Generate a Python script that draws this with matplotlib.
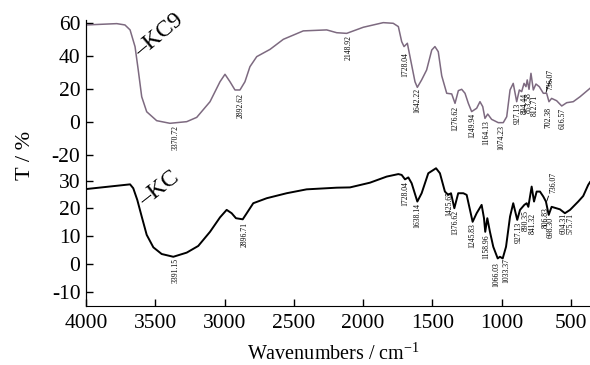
import matplotlib
matplotlib.use("Agg")
import matplotlib.pyplot as plt

plt.rcParams["font.family"] = ["Liberation Serif", "DejaVu Serif"]
plt.rcParams["mathtext.fontset"] = "custom"
plt.rcParams["mathtext.rm"] = "Liberation Serif"
plt.rcParams["axes.unicode_minus"] = False

# KC9 spectrum (upper trace)
wn_kc9 = [4000, 3778, 3719, 3682, 3646, 3623, 3598, 3562, 3490, 3394,
          3273, 3201, 3105, 3033, 2997, 2961, 2925, 2889, 2853, 2817,
          2768, 2672, 2576, 2432, 2263, 2191, 2119, 1999, 1855, 1783,
          1746, 1722, 1705, 1681, 1662, 1626, 1609, 1578, 1542, 1505,
          1482, 1458, 1433, 1397, 1361, 1337, 1313, 1289, 1265, 1241,
          1217, 1181, 1157, 1137, 1121, 1101, 1073, 1025, 989, 964,
          940, 917, 892, 873, 856, 839, 825, 816, 803, 789,
          772, 753, 729, 700, 676, 659, 640, 604, 567, 531,
          484, 435, 363]
t_kc9 = [58.8, 59.6, 58.8, 55.8, 45.6, 31.5, 15.3, 6.2, 0.8, -0.8,
         0.2, 2.8, 12.3, 24.4, 28.9, 24.4, 19.4, 19.4, 24.4, 33.5,
         39.6, 44.0, 50.1, 55.2, 55.8, 54.1, 53.7, 57.4, 60.2, 59.8,
         57.8, 48.7, 45.7, 47.7, 39.6, 24.4, 21.0, 25.5, 31.5, 43.6,
         45.7, 42.6, 28.0, 17.4, 17.0, 11.3, 19.0, 19.8, 17.4, 11.3,
         6.3, 8.3, 12.3, 9.3, 2.2, 4.8, 1.6, -0.4, -0.4, 3.2,
         19.4, 23.4, 12.3, 19.4, 18.4, 23.4, 21.4, 25.5, 19.8, 29.5,
         19.4, 23.0, 21.4, 17.4, 17.4, 12.3, 14.3, 12.9, 9.7, 11.7,
         12.3, 15.3, 20.4]

# KC spectrum (lower trace)
wn_kc = [4000, 3682, 3659, 3630, 3598, 3562, 3514, 3454, 3370, 3273,
         3190, 3105, 3033, 2985, 2949, 2918, 2869, 2840, 2793, 2696,
         2552, 2408, 2191, 2095, 1951, 1830, 1746, 1722, 1698, 1674,
         1650, 1609, 1578, 1530, 1474, 1446, 1410, 1386, 1366, 1342,
         1314, 1277, 1253, 1234, 1210, 1181, 1145, 1128, 1119, 1104,
         1085, 1061, 1029, 1013, 993, 969, 940, 917, 888, 868,
         849, 837, 820, 808, 784, 767, 748, 724, 700, 681,
         661, 640, 580, 544, 507, 448, 412, 376, 363]
t_kc = [27.0, 28.7, 27.3, 23.1, 17.1, 10.5, 6.0, 3.6, 2.6, 4.1,
        6.5, 11.6, 16.8, 19.5, 18.3, 16.5, 16.1, 18.3, 21.9, 23.7,
        25.5, 26.9, 27.5, 27.6, 29.3, 31.5, 32.4, 32.1, 30.5, 31.2,
        29.1, 22.5, 25.5, 32.7, 34.5, 32.7, 26.1, 24.9, 25.5, 20.1,
        25.5, 25.5, 24.9, 20.6, 15.2, 18.3, 21.3, 16.5, 11.6, 16.5,
        11.6, 6.2, 2.0, 2.6, 2.0, 6.2, 17.1, 21.9, 15.9, 19.5,
        20.6, 21.3, 21.9, 20.6, 27.9, 22.5, 26.1, 26.1, 24.3, 22.5,
        17.7, 20.6, 19.7, 18.3, 19.5, 22.5, 24.5, 28.5, 29.5]

# peak labels: text, x, y (top of the rotated label)
kc9_peaks = ["3370.72", "2892.62", "2148.92", "1728.04", "1642.22", "1276.62",
             "1249.94", "1164.13", "1074.23", "927.13", "894.44", "853.58",
             "812.71", "702.38", "616.57"]
kc9_peak_x = [3351, 2884, 2107, 1698, 1609, 1337, 1212, 1114, 1000, 885, 837, 803,
              760, 659, 560]
kc9_peak_y = [-1.8, 17.6, 52.7, 42.6, 20.6, 9.7, 5.5, 1.2, -1.8, 11.5, 17.6, 18.2,
              16.4, 9.3, 8.5]

kc_peaks = ["3391.15", "2896.71", "1728.04", "1638.14", "1425.65", "1376.62",
            "1245.83", "1158.96", "1066.03", "1033.37", "927.13", "890.35",
            "841.32", "806.83", "698.30", "604.31", "575.71"]
kc_peak_x = [3351, 2853, 1698, 1609, 1381, 1337, 1210, 1109, 1036, 969, 880, 825,
             779, 681, 647, 551, 502]
kc_peak_y = [2.2, 15.2, 29.7, 22.0, 26.1, 19.5, 14.8, 10.5, 0.8, 2.2, 15.2, 19.5,
             18.4, 20.6, 17.0, 18.4, 18.4]

fig = plt.figure(figsize=(5.9, 3.65), dpi=100)
rect = [86 / 590, 59 / 365, 504 / 590, 286 / 365]
ax = fig.add_axes(rect)
ax2 = fig.add_axes(rect, sharex=ax)
ax2.patch.set_visible(False)

ax.plot(wn_kc, t_kc, color="black", lw=1.4)
ax2.plot(wn_kc9, t_kc9, color="#7d6a80", lw=1.1)

ax.set_xlim(4000, 363)
ax.set_ylim(-15.14, 87.93)
ax2.set_ylim(-111.5, 61.8)

ax.set_xticks([4000, 3500, 3000, 2500, 2000, 1500, 1000, 500])
ax.set_yticks([-10, 0, 10, 20, 30])
ax2.set_yticks([-20, 0, 20, 40, 60])

for a in (ax, ax2):
    a.spines["top"].set_visible(False)
    a.spines["right"].set_visible(False)
    a.tick_params(direction="in", length=5, width=1, labelsize=15.5, pad=4)
ax.tick_params(axis="x", pad=6)
ax2.spines["bottom"].set_visible(False)
ax2.tick_params(axis="x", bottom=False, labelbottom=False)

# peak labels
for txt, x, y in zip(kc9_peaks, kc9_peak_x, kc9_peak_y):
    ax2.text(x, y, txt, rotation=90, ha="center", va="top", fontsize=5.5)
for txt, x, y in zip(kc_peaks, kc_peak_x, kc_peak_y):
    ax.text(x, y, txt, rotation=90, ha="center", va="top", fontsize=5.5)

# labels sitting above the trace with a short leader
ax2.annotate("736.07", xy=(680, 18.0), xytext=(647, 19.6), rotation=90,
             ha="center", va="bottom", fontsize=5.5,
             arrowprops=dict(arrowstyle="-", lw=0.6, shrinkA=0, shrinkB=0))
ax.annotate("736.07", xy=(675, 22.6), xytext=(630, 25.5), rotation=90,
            ha="center", va="bottom", fontsize=5.5,
            arrowprops=dict(arrowstyle="-", lw=0.6, shrinkA=0, shrinkB=0))

# sample names, the dash acts as the leader to the trace
ax2.text(3625, 41.2, "\u2013KC9", rotation=40, rotation_mode="anchor",
         ha="left", va="center", fontsize=17)
ax.text(3600, 22.0, "\u2013KC", rotation=38, rotation_mode="anchor",
        ha="left", va="center", fontsize=17)

fig.text(25 / 590, 1 - 155 / 365, "T / %", rotation=90, ha="center", va="center",
         fontsize=16)
fig.text(333 / 590, 1 - 354 / 365, r"Wavenumbers / cm$^{\mathrm{-1}}$",
         ha="center", va="center", fontsize=14.5)

fig.savefig("out.png", dpi=100)
